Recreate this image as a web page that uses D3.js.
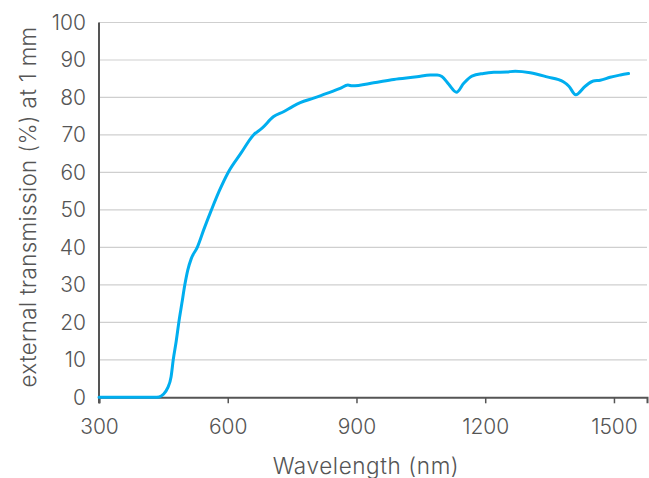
<!DOCTYPE html>
<html>
<head>
<meta charset="utf-8">
<script src="https://cdn.jsdelivr.net/npm/d3@7"></script>
<style>
  html, body { margin: 0; padding: 0; background: #fff; }
  svg text { font-family: Inter, Lato, sans-serif; font-weight: 300; fill: #555; }
</style>
</head>
<body>
<svg id="chart" width="649" height="478"></svg>
<script>
const wavelength = [300, 430, 440, 450, 460, 468, 473, 480, 486, 493, 500, 507, 515, 529, 545, 562, 580, 601, 630, 660, 680, 707, 730, 750, 769, 800, 824, 862, 880, 890, 940, 987, 1041, 1072, 1088, 1099, 1115, 1133, 1150, 1169, 1196, 1220, 1250, 1270, 1305, 1344, 1382, 1395, 1411, 1433, 1452, 1468, 1491, 1515, 1534];
const transmission = [0, 0, 0.1, 0.8, 2.5, 5.5, 10, 15, 20, 25, 30, 34, 37, 40, 45, 50, 55, 60, 65, 70, 71.8, 74.9, 76.2, 77.5, 78.6, 79.8, 80.8, 82.4, 83.3, 83.1, 83.9, 84.8, 85.5, 86, 86, 85.6, 83.5, 81.4, 83.8, 85.7, 86.4, 86.7, 86.8, 87.0, 86.6, 85.5, 84.2, 83, 80.7, 83, 84.4, 84.6, 85.4, 86, 86.4];
const xTicks = [300, 600, 900, 1200, 1500];
const yTicks = [0, 10, 20, 30, 40, 50, 60, 70, 80, 90, 100];
const xTitle = "Wavelength (nm)";
const yTitle = "external transmission (%) at 1 mm";

const svg = d3.select("#chart");
const margin = {left: 99, right: 2, top: 22.5, bottom: 80.7};
const W = 649, H = 478;
const FS = 21, TFS = 22.5;
const x = d3.scaleLinear().domain([300, 1577]).range([margin.left, W - margin.right]);
const y = d3.scaleLinear().domain([0, 100]).range([H - margin.bottom, margin.top]);

// grid
svg.append("g").selectAll("line").data(yTicks.filter(d => d > 0)).join("line")
  .attr("x1", x(300)).attr("x2", x(1577))
  .attr("y1", d => y(d)).attr("y2", d => y(d))
  .attr("stroke", "#cfcfcf").attr("stroke-width", 1.2);

// y axis
const yAxis = svg.append("g").attr("transform", `translate(${x(300)},0)`)
  .call(d3.axisLeft(y).tickValues(yTicks).tickSize(0).tickPadding(13).tickFormat(d3.format("d")));
yAxis.select(".domain").remove();
yAxis.selectAll("text").attr("font-size", FS).style("font-family", "Inter, Lato, sans-serif").style("font-weight", 300).attr("fill", "#555");
svg.append("line").attr("x1", x(300)).attr("x2", x(300)).attr("y1", y(100)).attr("y2", y(0) + 6)
  .attr("stroke", "#555").attr("stroke-width", 2);

// x axis
const xAxis = svg.append("g").attr("transform", `translate(0,${y(0)})`)
  .call(d3.axisBottom(x).tickValues(xTicks).tickSize(6).tickPadding(16).tickFormat(d3.format("d")));
xAxis.select(".domain").attr("stroke", "#555").attr("stroke-width", 2);
xAxis.selectAll(".tick line").attr("stroke", "#555").attr("stroke-width", 1.5);
xAxis.selectAll("text").attr("font-size", FS).style("font-family", "Inter, Lato, sans-serif").style("font-weight", 300).attr("fill", "#555");

// line
const data = wavelength.map((w, i) => [w, transmission[i]]);
svg.append("path").datum(data)
  .attr("fill", "none").attr("stroke", "#00aeef").attr("stroke-width", 3)
  .attr("stroke-linejoin", "round").attr("stroke-linecap", "round")
  .attr("d", d3.line().x(d => x(d[0])).y(d => y(d[1])).curve(d3.curveMonotoneX));

// titles
svg.append("text").attr("x", 366).attr("y", 474)
  .attr("text-anchor", "middle").attr("font-size", TFS).attr("letter-spacing", 0.6).text(xTitle);
svg.append("text").attr("transform", `translate(36,207) rotate(-90)`)
  .attr("text-anchor", "middle").attr("font-size", TFS).attr("letter-spacing", 0.3).text(yTitle);
</script>
</body>
</html>
